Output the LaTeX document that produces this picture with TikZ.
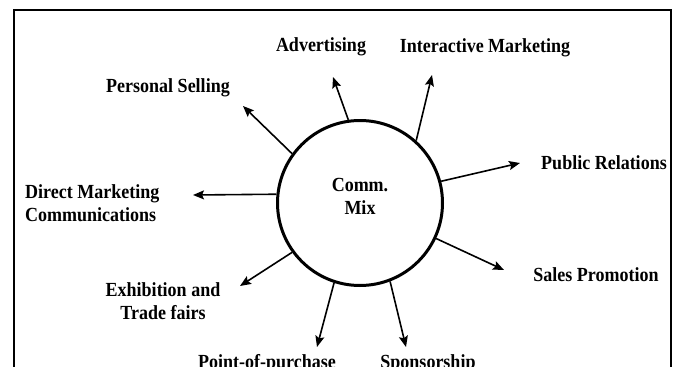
\documentclass[tikz,border=0pt]{standalone}
\usepackage{fontspec}
\setmainfont{Liberation Serif}[FakeStretch=0.9]
\usetikzlibrary{arrows.meta}
\begin{document}
\begin{tikzpicture}[x=1pt,y=-1pt,
  lbl/.style={font=\fontsize{20}{23}\selectfont\bfseries, inner sep=0pt},
  link/.style={line width=1.6pt, -{Stealth[length=11pt,width=9pt,inset=2pt]}},
]
\useasboundingbox (0,0) rectangle (681,367);
\clip (0,0) rectangle (681,367);
% outer frame
\draw[line width=2.2pt] (14,10) rectangle (671,400);

% central circle
\node[circle, draw, line width=3pt, minimum size=165pt, inner sep=0pt] (mix) at (360,203) {};
\node[lbl, align=center] (mixlbl) at (360,196) {Comm.\\Mix};

% labels
\node[lbl] (adv)  at (321,47)  {Advertising};
\node[lbl] (inter) at (485,48) {Interactive Marketing};
\node[lbl] (pers) at (168,88)  {Personal Selling};
\node[lbl, align=left, anchor=west] (dmc) at (25,203) {Direct Marketing\\Communications};
\node[lbl] (pr)   at (604,163) {Public Relations};
\node[lbl] (sp)   at (596,275) {Sales Promotion};
\node[lbl, align=center] (exh) at (163,301) {Exhibition and\\Trade fairs};
\node[lbl] (pop)  at (267,364) {Point-of-purchase};
\node[lbl] (spon) at (428,364) {Sponsorship};

% arrow tips
\coordinate (tadv)  at (333,77);
\coordinate (tint)  at (432,75);
\coordinate (tpers) at (243,106);
\coordinate (tdmc)  at (193,195);
\coordinate (tpr)   at (520,163);
\coordinate (tsp)   at (504,270);
\coordinate (texh)  at (240,286);
\coordinate (tpop)  at (317,347);
\coordinate (tspon) at (406,347);

\draw[link] (mix.98.7)  -- (tadv);
\draw[link] (mix.48.7)  -- (tint);
\draw[link] (mix.144.2) -- (tpers);
\draw[link] (mix.174.2) -- (tdmc);
\draw[link] (mix.15.5)  -- (tpr);
\draw[link] (mix.-25)   -- (tsp);
\draw[link] (mix.216)   -- (texh);
\draw[link] (mix.252)   -- (tpop);
\draw[link] (mix.291.7) -- (tspon);
\end{tikzpicture}
\end{document}
